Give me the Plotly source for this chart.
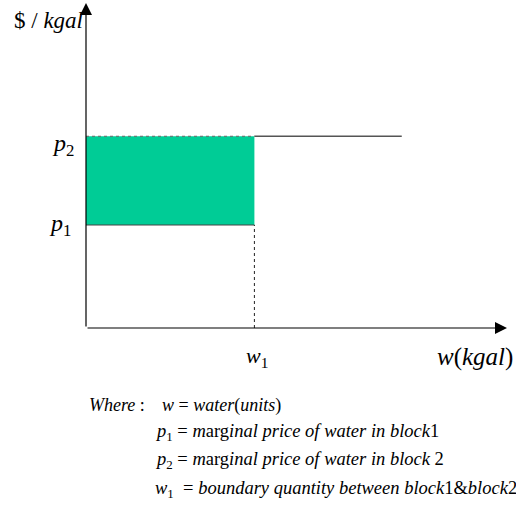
import plotly.graph_objects as go

# Data (in chart units)
w1 = 4.0          # boundary quantity between block 1 and block 2
w_end = 7.5       # end of the block-2 price line
x_max = 10.0      # end of the quantity axis
p1 = 3.17         # marginal price in block 1
p2 = 5.9          # marginal price in block 2
y_max = 10.0      # top of the price axis

FONT = "Liberation Serif"
W, H = 516, 507
L, R, T, B = 86, 9, 3, 179
PW, PH = W - L - R, H - T - B

def px(xp):
    return (xp - L) / PW

def py(yp):
    return (H - B - yp) / PH

fig = go.Figure()

# green block-2 revenue rectangle
fig.add_trace(go.Scatter(
    x=[0, w1, w1, 0, 0], y=[p1, p1, p2, p2, p1],
    fill="toself", fillcolor="#00CC96", mode="none",
    hoverinfo="skip", showlegend=False))

# p2 dotted guide from axis to w1
fig.add_trace(go.Scatter(x=[0, w1], y=[p2, p2], mode="lines",
                         line=dict(color="#666666", width=1, dash="dot"),
                         showlegend=False, hoverinfo="skip"))
# p1 solid segment
fig.add_trace(go.Scatter(x=[0, w1], y=[p1, p1], mode="lines",
                         line=dict(color="#444444", width=1.2),
                         showlegend=False, hoverinfo="skip"))
# vertical dotted at w1
fig.add_trace(go.Scatter(x=[w1, w1], y=[0, p1], mode="lines",
                         line=dict(color="#222222", width=1, dash="dot"),
                         showlegend=False, hoverinfo="skip"))
# p2 solid segment beyond w1
fig.add_trace(go.Scatter(x=[w1, w_end], y=[p2, p2], mode="lines",
                         line=dict(color="#555555", width=1.6),
                         showlegend=False, hoverinfo="skip"))

annotations = []
# axis arrows
annotations.append(dict(x=x_max, y=0, ax=0, ay=0, xref="x", yref="y",
                        axref="x", ayref="y", showarrow=True, arrowhead=2,
                        arrowsize=2, arrowwidth=1.2, arrowcolor="black", text=""))
annotations.append(dict(x=0, y=y_max, ax=0, ay=0, xref="x", yref="y",
                        axref="x", ayref="y", showarrow=True, arrowhead=2,
                        arrowsize=2, arrowwidth=1.2, arrowcolor="black", text=""))

def lab(text, xp, yp, size, xanchor="left"):
    annotations.append(dict(text=text, x=px(xp), y=py(yp), xref="paper", yref="paper",
                            showarrow=False, xanchor=xanchor, yanchor="middle",
                            font=dict(family=FONT, size=size, color="black")))

lab("$ / <i>kgal</i>", 12, 21, 23)
lab("<i>p</i><sub>2</sub>", 50, 145, 24)
lab("<i>p</i><sub>1</sub>", 47, 225, 24)
lab("<i>w</i><sub>1</sub>", 244, 357, 22)
lab("<i>w</i>(<i>kgal</i>)", 435, 357, 25)

lab("<i>Where</i> :", 87, 405, 18)
lab("<i>w</i> = <i>water</i>(<i>units</i>)", 160, 405, 18)
lab("<i>p</i><sub>1</sub> = <i>m</i>arg<i>inal price of water in block</i>1", 153, 432, 18.5)
lab("<i>p</i><sub>2</sub> = <i>m</i>arg<i>inal price of water in block</i> 2", 153, 460, 18.5)
lab("<i>w</i><sub>1</sub>  = <i>boundary quantity between block</i>1&amp;<i>block</i>2", 153, 489, 18.5)

fig.update_layout(
    width=W, height=H,
    margin=dict(l=L, r=R, t=T, b=B),
    paper_bgcolor="white", plot_bgcolor="white",
    font=dict(family=FONT),
    xaxis=dict(range=[0, x_max], visible=False, fixedrange=True),
    yaxis=dict(range=[0, y_max], visible=False, fixedrange=True),
    annotations=annotations,
    showlegend=False,
)

fig.write_html("out.html", config={"displayModeBar": False},
               post_script="document.body.style.margin='0';")
